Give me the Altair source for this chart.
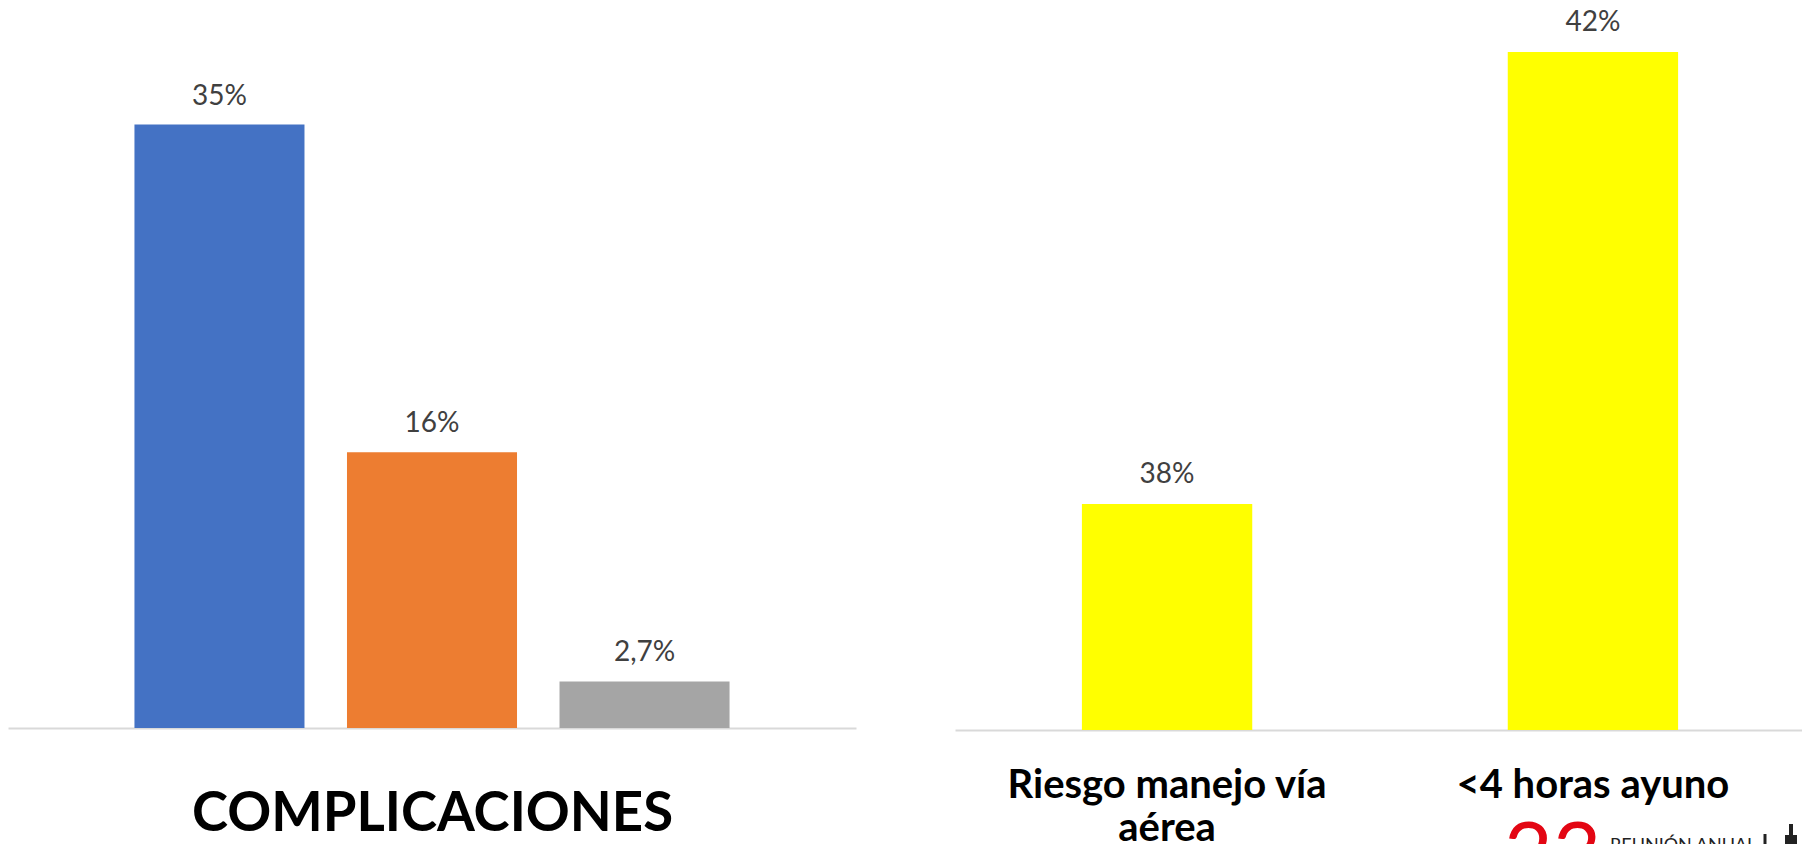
import altair as alt
import pandas as pd

left_cats = ["A", "B", "C"]
left_vals = [35, 16, 2.7]
left_text = ["35%", "16%", "2,7%"]
left_cols = ["#4472C4", "#ED7D31", "#A5A5A5"]
right_cats = ["Riesgo manejo vía|aérea", "<4 horas ayuno"]
right_vals = [38, 42]
right_text = ["38%", "42%"]
FONT = "Lato"

ldf = pd.DataFrame({"c": left_cats, "v": left_vals, "t": left_text, "col": left_cols})
rdf = pd.DataFrame({"c": right_cats, "v": right_vals, "t": right_text})

lscale = alt.Scale(type="band", domain=left_cats, range=[0, 848], paddingInner=0.2, paddingOuter=0.595)
rscale = alt.Scale(type="band", domain=right_cats, range=[947, 1797], paddingInner=0.6, paddingOuter=0.298)
lyscale = alt.Scale(domain=[0, 41.76], range=[720, 0], nice=False)
ryscale = alt.Scale(domain=[36, 42.39], range=[722, 0], nice=False)

lx = alt.X("c:N", scale=lscale, title="COMPLICACIONES",
           axis=alt.Axis(orient="bottom", labels=False, ticks=False, domainColor="#D9D9D9", domainWidth=2, offset=-2,
                         titleFont=FONT, titleFontSize=54.5, titleFontWeight="bold",
                         titleColor="#000000", titlePadding=59))
ly = alt.Y("v:Q", scale=lyscale, axis=None)
lbars = alt.Chart(ldf).mark_bar().encode(x=lx, y=ly, color=alt.Color("col:N", scale=None))
ltext = alt.Chart(ldf).mark_text(font=FONT, fontSize=28, color="#404040", baseline="bottom", dy=-14).encode(
    x=alt.X("c:N", scale=lscale, axis=None), y=ly, text="t:N")

rx = alt.X("c:N", scale=rscale, title=None,
           axis=alt.Axis(orient="bottom", ticks=False, domainColor="#D9D9D9", domainWidth=2, labelAngle=0,
                         labelFont=FONT, labelFontSize=40, labelFontWeight="bold",
                         labelColor="#000000", labelPadding=35, labelLimit=0, labelLineHeight=43,
                         labelExpr="split(datum.label, '|')"))
ry = alt.Y("v:Q", scale=ryscale, axis=None)
rbars = alt.Chart(rdf).mark_bar(color="#FFFF00", clip=True).encode(x=rx, y=ry)
rtext = alt.Chart(rdf).mark_text(font=FONT, fontSize=28, color="#404040", baseline="bottom", dy=-15).encode(
    x=alt.X("c:N", scale=rscale, axis=None), y=ry, text="t:N")

one = alt.Chart(rdf).transform_filter("datum.v == 42")
logo_23 = one.mark_text(text="23", font=FONT, fontSize=84, color="#E30613", align="left", baseline="top"
                        ).encode(x=alt.value(1496), y=alt.value(808))
logo_txt = one.mark_text(text="REUNIÓN ANUAL", font=FONT, fontSize=18, color="#222222", align="left", baseline="top"
                         ).encode(x=alt.value(1602), y=alt.value(829))
spike = one.mark_rule(color="#222222", strokeWidth=4).encode(x=alt.value(1783), y=alt.value(816), y2=alt.value(827))
tower = one.mark_rule(color="#222222", strokeWidth=12).encode(x=alt.value(1783), y=alt.value(827), y2=alt.value(836))
small = one.mark_rule(color="#222222", strokeWidth=3).encode(x=alt.value(1757), y=alt.value(826), y2=alt.value(836))

chart = (
    alt.layer(lbars, ltext, rbars, rtext, logo_23, logo_txt, spike, tower, small)
    .resolve_scale(x="independent", y="independent", color="independent")
    .properties(width=1794, height=722,
                padding={"left": 0, "top": 0, "right": 0, "bottom": 114},
                autosize=alt.AutoSizeParams(type="none"))
    .configure_view(stroke=None)
)
chart.save("out.html", embed_options={"renderer": "svg", "actions": False})
